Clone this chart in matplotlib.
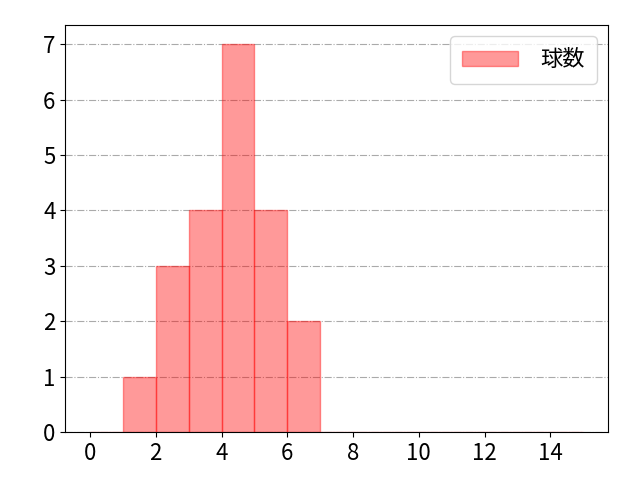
import numpy as np
import matplotlib
matplotlib.use('Agg')
import matplotlib.pyplot as plt

plt.rcParams['font.family'] = ['Noto Sans CJK JP', 'DejaVu Sans']
plt.rcParams['font.size'] = 16

# pitches per at-bat histogram
bin_edges = list(range(0, 16))
bin_starts = [1, 2, 3, 4, 5, 6]
counts = [1, 3, 4, 7, 4, 2]
label = '球数'

fig, ax = plt.subplots(figsize=(6.4, 4.8), dpi=100)
ax.hist(bin_starts, bins=bin_edges, weights=counts, color='red', alpha=0.4,
        edgecolor='red', linewidth=1, label=label, zorder=2)
ax.grid(axis='y', linestyle='-.', color='#aaaaaa', zorder=0)
ax.set_axisbelow(True)
ax.set_xticks(range(0, 15, 2))
ax.legend(loc='upper right', handlelength=2.5, handletextpad=1.0, borderpad=0.55)
fig.subplots_adjust(left=0.102, right=0.95, top=0.948, bottom=0.1)
plt.savefig('out.png')
